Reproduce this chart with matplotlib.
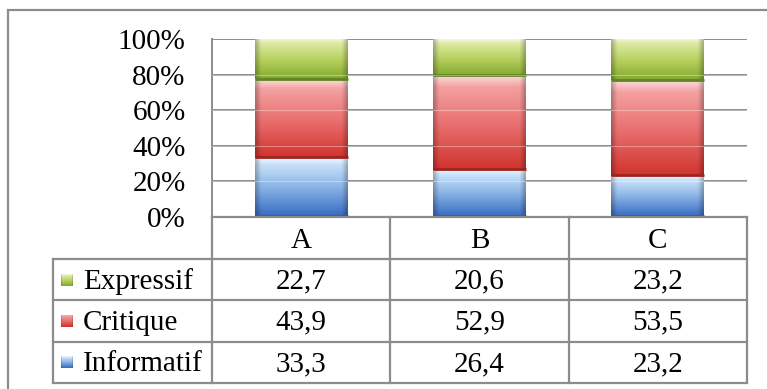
import numpy as np
import matplotlib.pyplot as plt
from matplotlib.patches import Rectangle
from matplotlib.transforms import blended_transform_factory
from matplotlib.colors import to_rgb

plt.rcParams['font.family'] = ['Liberation Serif', 'DejaVu Serif']

categories = ["A", "B", "C"]
series = ["Informatif", "Critique", "Expressif"]
informatif = [33.3, 26.4, 23.2]
critique = [43.9, 52.9, 53.5]
expressif = [22.7, 20.6, 23.2]
yticks = [0, 20, 40, 60, 80, 100]

# light (top) / mid / dark (bottom) shades for the glossy fill
shades = {
    "Informatif": ("#dcefff", "#8ab4e6", "#3469c0"),
    "Critique": ("#f7b0b0", "#ea7272", "#d0322c"),
    "Expressif": ("#e6f2b8", "#bad262", "#82aa2e"),
}
edge_dark = {"Informatif": "#2d5aa6", "Critique": "#9c2420", "Expressif": "#5f8424"}

W, H, DPI = 767, 389, 100
FS = 21
fig = plt.figure(figsize=(W / DPI, H / DPI), dpi=DPI)

def fx(px):
    return px / W

def fy(py):
    return 1 - py / H

left, right, top, bottom = 212, 747, 39, 217
ax = fig.add_axes([fx(left), fy(bottom), fx(right - left), (bottom - top) / H])
ax.set_xlim(-0.5, len(categories) - 0.5)
ax.set_ylim(0, 1)

grid_col = "#8c8c8c"
for t in yticks[1:]:
    ax.axhline(t / 100, color=grid_col, lw=1.4, zorder=1)
for s in ["top", "right", "bottom"]:
    ax.spines[s].set_visible(False)
ax.spines["left"].set_color(grid_col)
ax.spines["left"].set_linewidth(1.4)
ax.set_xticks([])
ax.set_yticks([t / 100 for t in yticks])
ax.set_yticklabels([f"{t}%" for t in yticks], fontsize=FS)
ax.tick_params(axis="y", length=0, pad=19)


def gloss_image(name, n=200, m=60):
    lt, md, dk = (np.array(to_rgb(c)) for c in shades[name])
    v = np.linspace(0, 1, n)[:, None]
    col = np.where(v[..., None] < 0.5,
                   lt + (md - lt) * (v[..., None] / 0.5),
                   md + (dk - md) * ((v[..., None] - 0.5) / 0.5))
    col = np.repeat(col, m, axis=1)
    # white sheen along the top edge
    sheen = np.clip(1 - np.linspace(0, 1, n) / 0.12, 0, 1)[:, None, None] * 0.55
    col = col + (1 - col) * sheen
    # darker rim on the left and right sides
    u = np.linspace(0, 1, m)
    rim = np.clip(1 - np.minimum(u, 1 - u) / 0.06, 0, 1)[None, :, None] * 0.25
    col = col * (1 - rim)
    return np.clip(col, 0, 1)


x = np.arange(len(categories))
totals = np.array(informatif) + np.array(critique) + np.array(expressif)
base = np.zeros(len(categories))
width = 0.52
for name, vals in zip(series, [informatif, critique, expressif]):
    frac = np.array(vals) / totals
    bars = ax.bar(x, frac, width, bottom=base, color="none", edgecolor="none", zorder=2)
    img = gloss_image(name)
    for b in bars:
        bx, by = b.get_x(), b.get_y()
        bw, bh = b.get_width(), b.get_height()
        im = ax.imshow(img, extent=[bx, bx + bw, by, by + bh], aspect="auto",
                       zorder=2, interpolation="bilinear")
        im.set_clip_path(b)
        ax.plot([bx, bx + bw], [by + 0.004, by + 0.004], color=edge_dark[name],
                lw=2.0, zorder=3, solid_capstyle="butt")
    base = base + frac
ax.set_xlim(-0.5, len(categories) - 0.5)
ax.set_ylim(0, 1)
# faint grid showing through the bars
for t in yticks[1:-1]:
    ax.axhline(t / 100, color="white", lw=0.8, alpha=0.35, zorder=4)

# data table under the plot
tr = blended_transform_factory(ax.transData, ax.transAxes)
px_y = 1 / (bottom - top)
px_x = 1 / ((right - left) / len(categories))
header_h = 42 * px_y
row_h = (383 - 259) / 3 * px_y
label_left = -0.5 - (left - 53) * px_x
line_kw = dict(color=grid_col, lw=1.6, transform=tr, clip_on=False, zorder=5)

y_rows = [-header_h - i * row_h for i in range(4)]
# horizontal rules
ax.plot([-0.5, 2.5], [0, 0], **line_kw)
for yy in y_rows:
    ax.plot([label_left, 2.5], [yy, yy], **line_kw)
# vertical rules
ax.plot([-0.5, -0.5], [0, y_rows[-1]], **line_kw)
ax.plot([label_left, label_left], [y_rows[0], y_rows[-1]], **line_kw)
for xc in [0.5, 1.5, 2.5]:
    ax.plot([xc, xc], [0, y_rows[-1]], **line_kw)

for i, c in enumerate(categories):
    ax.text(i, -header_h / 2 - 0.015, c, transform=tr, ha="center", va="center",
            fontsize=FS, clip_on=False)

table_rows = [("Expressif", expressif), ("Critique", critique), ("Informatif", informatif)]
sq = 12
for r, (name, vals) in enumerate(table_rows):
    yc = y_rows[r] - row_h / 2
    for i, v in enumerate(vals):
        ax.text(i, yc - 0.01, f"{v:.1f}".replace(".", ","), transform=tr,
                ha="center", va="center", fontsize=FS, clip_on=False)
    ax.text(-0.5 - (left - 83) * px_x, yc - 0.01, name, transform=tr, ha="left",
            va="center", fontsize=FS, clip_on=False)
    sx = -0.5 - (left - 61) * px_x
    key = ax.inset_axes([sx, yc - sq / 2 * px_y, sq * px_x, sq * px_y], transform=tr)
    key.imshow(gloss_image(name, 40, 40), aspect="auto", interpolation="bilinear")
    key.set_axis_off()

# outer chart border
fig.add_artist(Rectangle((fx(8), fy(420)), 1.2, fy(10) - fy(420), transform=fig.transFigure,
                         fill=False, edgecolor="#8c8c8c", lw=1.6))

fig.savefig("out.png", dpi=DPI)
